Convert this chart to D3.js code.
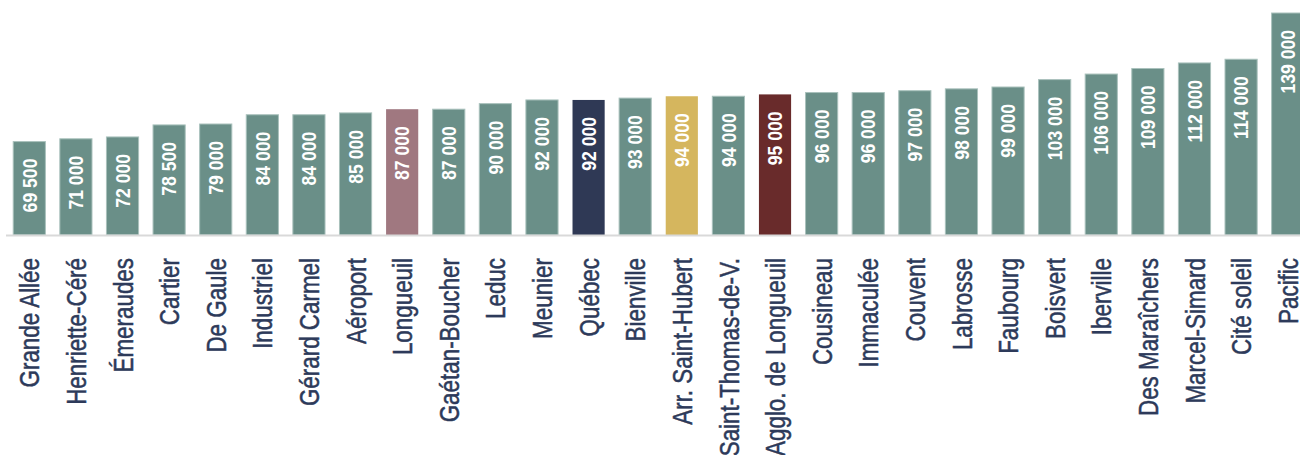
<!DOCTYPE html>
<html>
<head>
<meta charset="utf-8">
<script src="https://cdn.jsdelivr.net/npm/d3@7"></script>
<style>
  body { margin: 0; background: #fff; }
  svg { display: block; }
  .cat { font-family: "Liberation Sans", Arial, sans-serif; font-size: 28px; fill: #2d3a5a; stroke: #2d3a5a; stroke-width: 0.5px; }
  .val { font-family: "Liberation Sans", Arial, sans-serif; font-weight: bold; font-size: 20px; fill: #fff; }
</style>
</head>
<body>
<svg id="chart"></svg>
<script>
// categories, left to right
const names = ["Grande Allée", "Henriette-Céré", "Émeraudes", "Cartier", "De Gaule", "Industriel",
  "Gérard Carmel", "Aéroport", "Longueuil", "Gaétan-Boucher", "Leduc", "Meunier", "Québec",
  "Bienville", "Arr. Saint-Hubert", "Saint-Thomas-de-V.", "Agglo. de Longueuil", "Cousineau",
  "Immaculée", "Couvent", "Labrosse", "Faubourg", "Boisvert", "Iberville", "Des Maraîchers",
  "Marcel-Simard", "Cité soleil", "Pacific"];

const values = [69500, 71000, 72000, 78500, 79000, 84000, 84000, 85000, 87000, 87000, 90000,
  92000, 92000, 93000, 94000, 94000, 95000, 96000, 96000, 97000, 98000, 99000, 103000,
  106000, 109000, 112000, 114000, 139000];

// highlighted bars
const highlight = {
  "Longueuil": "#a07880",
  "Québec": "#2f3955",
  "Arr. Saint-Hubert": "#d5b65e",
  "Agglo. de Longueuil": "#692b2b"
};

const W = 1300, H = 455;
const baseY = 235;

const svg = d3.select("#chart").attr("width", W).attr("height", H);

const x = d3.scaleBand()
  .domain(names)
  .range([6, 1311])
  .paddingInner(0.31)
  .paddingOuter(0.155);

// value axis does not start at zero
const y = d3.scaleLinear()
  .domain([19000, 139000])
  .range([baseY, 13]);

const fmt = v => d3.format(",")(v).replace(/,/g, " ");

const data = names.map((n, i) => ({ name: n, value: values[i] }));

svg.append("g")
  .selectAll("rect")
  .data(data)
  .join("rect")
    .attr("x", d => x(d.name))
    .attr("y", d => y(d.value))
    .attr("width", x.bandwidth())
    .attr("height", d => baseY - y(d.value))
    .attr("fill", d => highlight[d.name] || "#6a8f88")
    .attr("stroke", d => highlight[d.name] ? "none" : "#a9c1bc")
    .attr("stroke-width", 1);

// axis line
svg.append("line")
  .attr("x1", 6).attr("x2", W)
  .attr("y1", baseY + 0.5).attr("y2", baseY + 0.5)
  .attr("stroke", "#d9d9d9")
  .attr("stroke-width", 2);

// value labels, inside top of the bar (narrowed a bit)
svg.append("g")
  .selectAll("text")
  .data(data)
  .join("text")
    .attr("class", "val")
    .attr("text-anchor", "end")
    .attr("dy", "0.36em")
    .attr("transform", d => `translate(${x(d.name) + x.bandwidth() / 2},${y(d.value) + 17}) rotate(-90) scale(0.88,1)`)
    .text(d => fmt(d.value));

// category labels, squeezed along the text to look condensed
svg.append("g")
  .selectAll("text")
  .data(names)
  .join("text")
    .attr("class", "cat")
    .attr("text-anchor", "end")
    .attr("dy", "0.36em")
    .attr("transform", d => `translate(${x(d) + x.bandwidth() / 2},${baseY + 23}) rotate(-90) scale(0.8,1)`)
    .text(d => d);
</script>
</body>
</html>
